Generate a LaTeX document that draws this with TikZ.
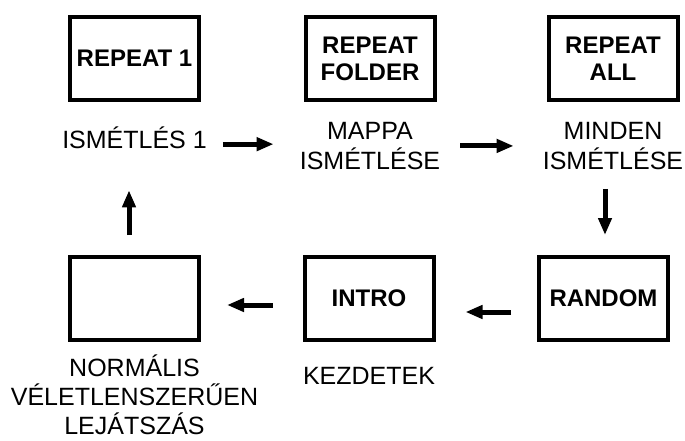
\documentclass[tikz,border=0pt]{standalone}
\usepackage{fontspec}
\setmainfont{Liberation Sans}
\usetikzlibrary{positioning,arrows.meta}
\begin{document}
\begin{tikzpicture}[x=1pt, y=1pt,
    mode/.style={draw, line width=4pt, minimum width=129pt, minimum height=83pt,
      align=center, font=\fontsize{24}{27}\selectfont\bfseries},
    caption/.style={align=center, inner sep=0pt, font=\fontsize{25}{30}\selectfont},
    arr/.style={line width=5pt, -{Triangle[length=17pt,width=13pt]}}]
\useasboundingbox (0,0) rectangle (685,-441);

% upper row
\node[mode] (rep1) at (134.5,-58.5) {REPEAT 1};
\node[mode] (repfolder) at (370,-58.5) {REPEAT\\FOLDER};
\node[mode] (repall) at (613,-58.5) {REPEAT\\ALL};
\node[caption, below=25pt of rep1] (lab1) {ISMÉTLÉS 1};
\node[caption, below=20pt of repfolder] (lab2) {MAPPA\\ISMÉTLÉSE};
\node[caption, below=20pt of repall] (lab3) {MINDEN\\ISMÉTLÉSE};

% lower row
\node[mode] (normal) at (134.5,-298.5) {};
\node[mode] (intro) at (369,-298.5) {INTRO};
\node[mode] (random) at (603.5,-298.5) {RANDOM};
\node[caption, font=\fontsize{25}{29}\selectfont, below=13pt of normal] (lab4) {NORMÁLIS\\VÉLETLENSZERŰEN\\LEJÁTSZÁS};
\node[caption, below=25pt of intro] (lab5) {KEZDETEK};

% arrows
\draw[arr] ([shift={(16pt,-6pt)}]lab1.east) -- ([shift={(-26pt,-6pt)}]lab1.east -| lab2.west);
\draw[arr] ([xshift=20pt]lab2.east) -- ([xshift=-29pt]lab2.east -| lab3.west);
\draw[arr, shorten <=19pt, shorten >=20pt] ([xshift=1.5pt]random.north |- lab3.south) -- ([xshift=1.5pt]random.north);
\draw[arr, shorten <=26pt, shorten >=30pt] ([yshift=-13.5pt]random.west) -- ([yshift=-13.5pt]intro.east);
\draw[arr, shorten <=30pt, shorten >=26pt] ([yshift=-6.5pt]intro.west) -- ([yshift=-6.5pt]normal.east);
\draw[arr, shorten <=20pt, shorten >=41pt] ([xshift=-5.5pt]normal.north) -- ([xshift=-5.5pt]normal.north |- lab1.south);
\end{tikzpicture}
\end{document}
